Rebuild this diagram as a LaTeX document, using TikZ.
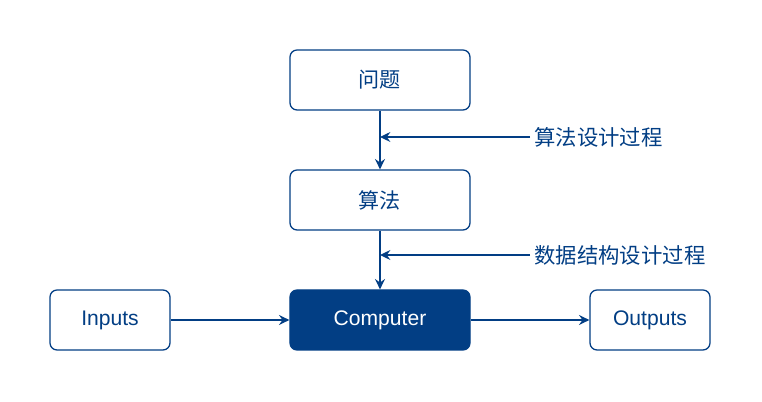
\documentclass[tikz,border=0pt]{standalone}
\usepackage{fontspec}
\setmainfont{Liberation Sans}
\newfontfamily\cjk{Noto Sans CJK SC}
\usepackage{tikz}
\usetikzlibrary{positioning,arrows.meta,calc}
\usepackage{xcolor}
\definecolor{navy}{HTML}{023E84}

\begin{document}
\begin{tikzpicture}[
    stageNode/.style={rectangle, rounded corners=5pt, draw=navy, fill=white, line width=0.9pt, minimum width=4.5cm, minimum height=1.5cm, align=center, font=\fontsize{15}{17}\selectfont, text=navy},
    ioNode/.style={stageNode, minimum width=3cm},
    coreNode/.style={stageNode, fill=navy, text=white},
    stepLabel/.style={anchor=west, inner sep=3pt, font=\cjk\fontsize{15.2}{17}\selectfont, text=navy},
    flow/.style={-{Stealth[length=2.6mm, width=2.5mm, inset=0.9mm]}, line width=0.9pt, draw=navy}
]
    \useasboundingbox (-9.5, -2.05) rectangle (9.55, 8);

    \node[stageNode] (wt) at (0, 6) {\cjk 问题};
    \node[stageNode] (sf) at (0, 3) {\cjk 算法};
    \node[coreNode] (pc) at (0, 0) {Computer};
    \node[ioNode] (in)  at (-6.75, 0) {Inputs};
    \node[ioNode] (out) at (6.75, 0) {Outputs};

    \node[stepLabel] (algo) at (3.75, 4.575) {算法设计过程};
    \node[stepLabel] (ds)   at (3.75, 1.625) {数据结构设计过程};

    \draw[flow] (wt) -- (sf);
    \draw[flow] (sf) -- (pc);
    \draw[flow] (in) -- (pc);
    \draw[flow] (pc) -- (out);
    \draw[flow] (algo.west) -- (algo.west -| wt.south);
    \draw[flow] (ds.west) -- (ds.west -| sf.south);
\end{tikzpicture}
\end{document}
